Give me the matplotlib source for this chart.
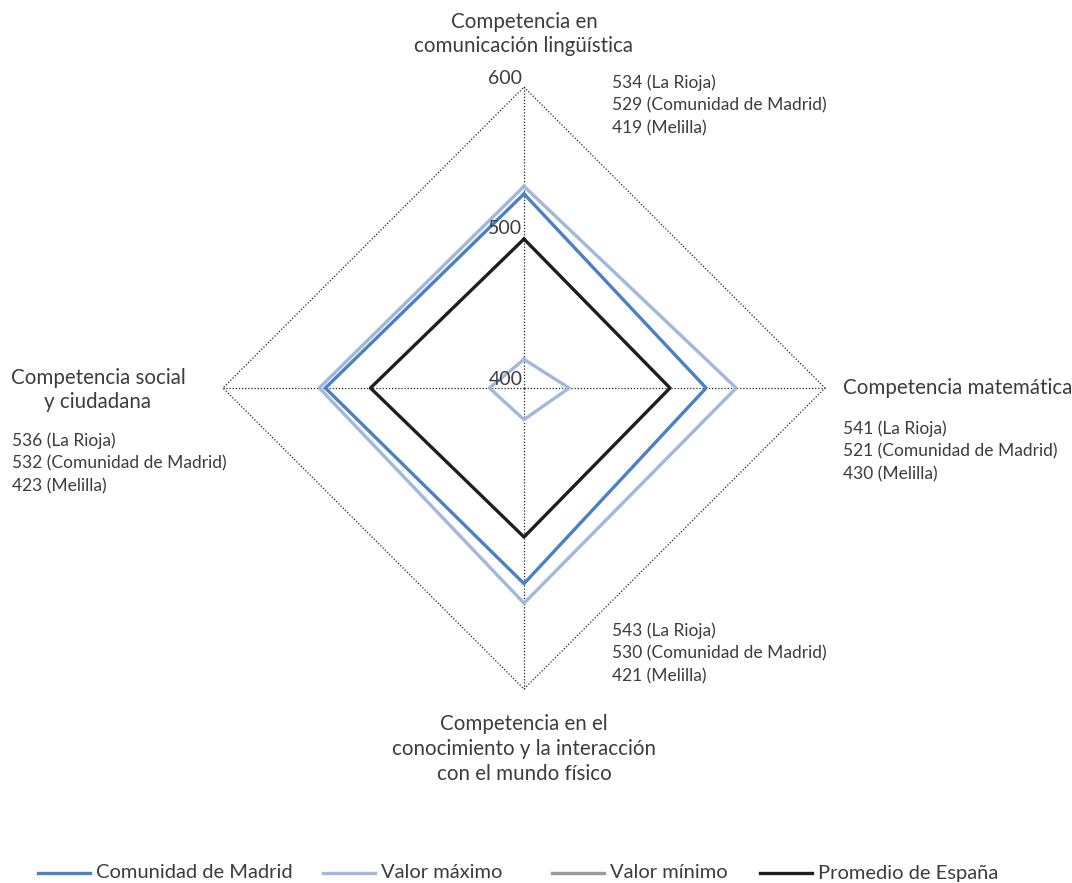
import numpy as np
import matplotlib
matplotlib.use("Agg")
import matplotlib.pyplot as plt
from matplotlib.lines import Line2D

plt.rcParams['font.family'] = ['Lato', 'DejaVu Sans']

# axes order: top, right, bottom, left
competencias = ["Competencia en\ncomunicación lingüística",
                "Competencia matemática",
                "Competencia en el\nconocimiento y la interacción\ncon el mundo físico",
                "Competencia social\ny ciudadana"]
madrid = [529, 521, 530, 532]
valor_max = [534, 541, 543, 536]
valor_min = [419, 430, 421, 423]
espana = [499, 497, 499, 502]
ticks = [400, 500, 600]
notas = [["534 (La Rioja)", "529 (Comunidad de Madrid)", "419 (Melilla)"],
         ["541 (La Rioja)", "521 (Comunidad de Madrid)", "430 (Melilla)"],
         ["543 (La Rioja)", "530 (Comunidad de Madrid)", "421 (Melilla)"],
         ["536 (La Rioja)", "532 (Comunidad de Madrid)", "423 (Melilla)"]]

R0, R1 = 400, 600
angles = np.deg2rad([90, 0, -90, 180])


def to_xy(vals):
    r = (np.asarray(vals, float) - R0) / (R1 - R0)
    x = np.append(r * np.cos(angles), r[0] * np.cos(angles[0]))
    y = np.append(r * np.sin(angles), r[0] * np.sin(angles[0]))
    return x, y


W, H = 1072, 883
fig = plt.figure(figsize=(W / 100, H / 100), dpi=100)
cx, cy, rad = 524, 388, 301
ax = fig.add_axes([(cx - rad) / W, (H - cy - rad) / H, 2 * rad / W, 2 * rad / H])
ax.set_xlim(-1, 1)
ax.set_ylim(-1, 1)
ax.axis("off")

# grid: outer diamond + spokes
gx, gy = to_xy([R1] * 4)
ax.plot(gx, gy, color="#222222", lw=0.9, ls=(0, (1, 1.5)), clip_on=False)
for a in angles:
    ax.plot([0, np.cos(a)], [0, np.sin(a)], color="#222222", lw=0.9,
            ls=(0, (1, 1.5)), clip_on=False)

c_madrid = "#4a80c4"
c_max = "#a2b7de"
c_min = "#9a9a9a"
c_esp = "#1e1e1e"

ax.plot(*to_xy(valor_min), color=c_max, lw=2.4, clip_on=False)
ax.plot(*to_xy(valor_max), color=c_max, lw=2.4, clip_on=False)
ax.plot(*to_xy(madrid), color=c_madrid, lw=2.4, clip_on=False)
ax.plot(*to_xy(espana), color=c_esp, lw=2.4, clip_on=False)

txt = "#3c3c3c"
for t in ticks:
    ax.text(-0.005, (t - R0) / (R1 - R0), str(t), ha="right", va="bottom",
            fontsize=14, color=txt)


def fx(px):
    return px / W


def fy(py):
    return 1 - py / H


# axis titles
fs_title = 14.8
fig.text(fx(524), fy(34), competencias[0], ha="center", va="center",
         fontsize=fs_title, color=txt, linespacing=1.3)
fig.text(fx(843), fy(388), competencias[1], ha="left", va="center",
         fontsize=fs_title, color=txt)
fig.text(fx(524), fy(749), competencias[2], ha="center", va="center",
         fontsize=fs_title, color=txt, linespacing=1.3)
fig.text(fx(98), fy(390), competencias[3], ha="center", va="center",
         fontsize=fs_title, color=txt, linespacing=1.3, multialignment="center")

# annotations
note_pos = [(612, 83), (843, 429), (612, 631), (12, 441)]
for (px, py), lines in zip(note_pos, notas):
    for i, line in enumerate(lines):
        fig.text(fx(px), fy(py + i * 22.5), line, ha="left", va="center",
                 fontsize=12.5, color=txt)

# legend
leg_items = [("Comunidad de Madrid", c_madrid, 38),
             ("Valor máximo", c_max, 323),
             ("Valor mínimo", c_min, 552),
             ("Promedio de España", c_esp, 760)]
for label, col, x0 in leg_items:
    fig.add_artist(Line2D([fx(x0), fx(x0 + 52)], [fy(873), fy(873)],
                          color=col, lw=2.4, transform=fig.transFigure))
    fig.text(fx(x0 + 58), fy(873), label, ha="left", va="center",
             fontsize=14.5, color=txt)

fig.savefig("out.png", dpi=100)
